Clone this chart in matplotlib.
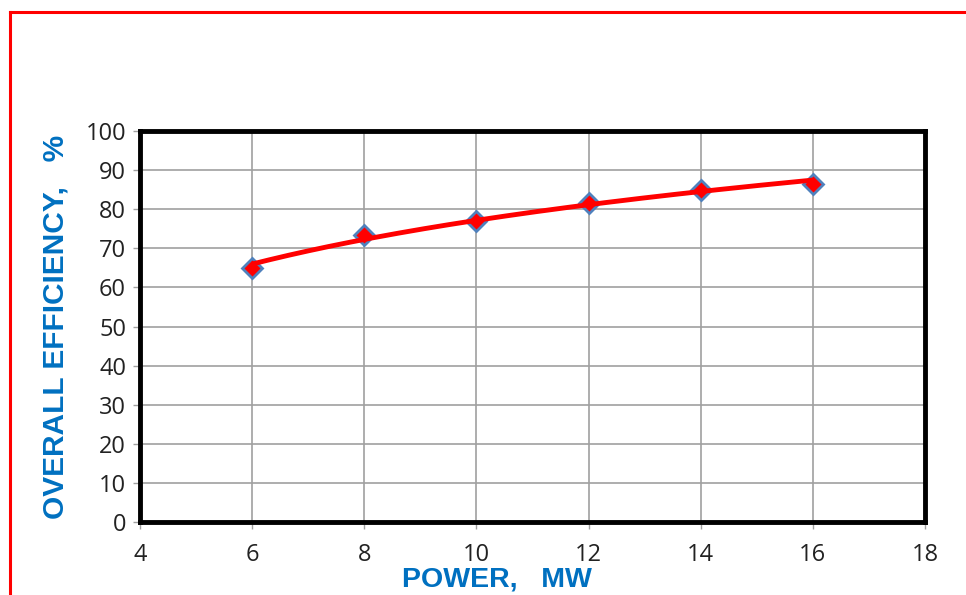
import numpy as np
import matplotlib
matplotlib.use("Agg")
import matplotlib.pyplot as plt
from matplotlib.lines import Line2D

# Measured overall efficiency at each power level
power_mw = [6, 8, 10, 12, 14, 16]
efficiency_pct = [65.0, 73.5, 77.0, 81.5, 85.0, 86.5]

x_ticks = [4, 6, 8, 10, 12, 14, 16, 18]
y_ticks = [0, 10, 20, 30, 40, 50, 60, 70, 80, 90, 100]

fig = plt.figure(figsize=(9.66, 5.95), dpi=100)
fig.patch.set_facecolor("white")

# Red frame around the chart area (open at the bottom and right)
fig.add_artist(Line2D([10 / 966, 10 / 966], [0, 1 - 12 / 595], color="red", lw=2.2,
                      transform=fig.transFigure))
fig.add_artist(Line2D([10 / 966, 1], [1 - 12 / 595, 1 - 12 / 595], color="red", lw=2.2,
                      transform=fig.transFigure))

ax = fig.add_axes([140 / 966, (595 - 522) / 595, (925 - 140) / 966, (522 - 131) / 595])

# Logarithmic trend line fitted to the measurements
x = np.asarray(power_mw, dtype=float)
y = np.asarray(efficiency_pct, dtype=float)
a, b = np.polyfit(np.log(x), y, 1)
xf = np.linspace(x.min(), x.max(), 200)
ax.plot(xf, a * np.log(xf) + b, color="red", lw=3.5, zorder=4, solid_capstyle="butt")

ax.plot(power_mw, efficiency_pct, linestyle="none", marker="D", markersize=10.5,
        markerfacecolor="red", markeredgecolor="#4F81BD", markeredgewidth=2, zorder=3)

ax.set_xlim(4, 18)
ax.set_ylim(0, 100)
ax.set_xticks(x_ticks)
ax.set_yticks(y_ticks)
ax.set_xticklabels([str(t) for t in x_ticks])
ax.set_yticklabels([str(t) for t in y_ticks])
ax.grid(True, color="#A0A0A0", lw=1.2)
ax.set_axisbelow(True)

for side in ax.spines.values():
    side.set_color("black")
    side.set_linewidth(3.5)

ax.tick_params(axis="both", direction="out", length=5, width=1, color="#A0A0A0",
               labelsize=17, labelcolor="#222222")
ax.tick_params(axis="x", pad=10)
ax.tick_params(axis="y", pad=5)
for lbl in ax.get_xticklabels() + ax.get_yticklabels():
    lbl.set_fontfamily("Open Sans")

ax.set_xlabel("POWER,   MW", fontsize=20.5, fontweight="bold", color="#0070C0",
              family="Liberation Sans", labelpad=0)
ax.xaxis.set_label_coords(0.455, -0.115)
ax.set_ylabel("OVERALL EFFICIENCY,   %", fontsize=21.5, fontweight="bold", color="#0070C0",
              family="Liberation Sans")
ax.yaxis.set_label_coords(-0.09, 0.5)

fig.savefig("out.png", dpi=100, facecolor="white")
